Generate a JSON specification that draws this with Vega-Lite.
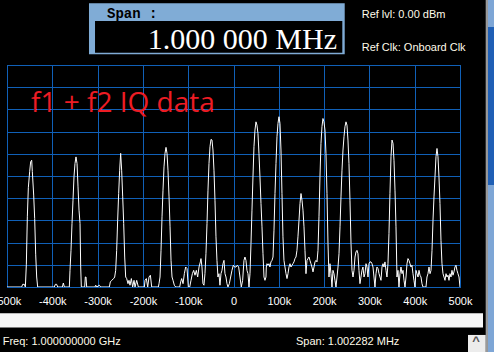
{
  "$schema": "https://vega.github.io/schema/vega-lite/v6.json",
  "width": 453,
  "height": 222,
  "autosize": {"type": "none"},
  "padding": {"left": 7, "top": 65, "right": 34, "bottom": 65},
  "background": "#000000",
  "config": {
    "view": {"stroke": "#4a88c8", "strokeWidth": 1},
    "axis": {"gridColor": "#1060b8", "gridWidth": 1, "gridOpacity": 1, "ticks": false, "domain": false, "grid": true},
    "axisX": {"tickCount": 10, "labelColor": "#ffffff", "labelFont": "Liberation Sans", "labelFontSize": 11, "labelPadding": 8,
      "labelFlush": false, "labelOverlap": false, "labelBound": false,
      "labelExpr": "datum.value == 0 ? '0' : datum.value + 'k'"},
    "axisY": {"tickCount": 10, "labels": false}
  },
  "datasets": {
    "trace": [
      {"f":-500,"p":-100},{"f":-467.6,"p":-100},{"f":-465.4,"p":-98.8},{"f":-461.7,"p":-98.8},{"f":-459.5,"p":-100},{"f":-457.3,"p":-90},{"f":-455.1,"p":-68.4},{"f":-452.9,"p":-55.3},{"f":-450,"p":-48.1},{"f":-447.8,"p":-43.6},{"f":-445.5,"p":-42.9},{"f":-444.1,"p":-48},{"f":-441.1,"p":-58.6},{"f":-438.9,"p":-69.2},{"f":-436.7,"p":-85.2},{"f":-434.5,"p":-95.5},{"f":-432.3,"p":-100},{"f":-395.5,"p":-100},{"f":-393.3,"p":-98.8},{"f":-390.4,"p":-98.8},{"f":-388.1,"p":-100},{"f":-377.8,"p":-100},{"f":-375.6,"p":-98.2},{"f":-373.4,"p":-100},{"f":-362.4,"p":-100},
      {"f":-360.9,"p":-92.5},{"f":-358.7,"p":-83.5},{"f":-356.5,"p":-71.4},{"f":-354.3,"p":-60.9},{"f":-352.1,"p":-50.4},{"f":-349.9,"p":-44.4},{"f":-347.7,"p":-41.4},{"f":-345.4,"p":-44.4},{"f":-343.2,"p":-54.9},{"f":-341.0,"p":-65.4},{"f":-338.8,"p":-71.4},{"f":-337.3,"p":-91},{"f":-335.9,"p":-100},{"f":-328.5,"p":-100},{"f":-327.1,"p":-95.5},{"f":-325.6,"p":-95.5},{"f":-324.1,"p":-100},{"f":-305.7,"p":-100},{"f":-304.2,"p":-99.2},{"f":-302.0,"p":-100},{"f":-296.1,"p":-99.2},{"f":-293.2,"p":-100},{"f":-274.1,"p":-100},{"f":-271.9,"p":-97.7},{"f":-268.9,"p":-97},{"f":-264.5,"p":-96.2},{"f":-262.3,"p":-95.5},{"f":-260.1,"p":-92.5},{"f":-257.9,"p":-83.5},{"f":-255.7,"p":-69.9},{"f":-253.5,"p":-57.9},{"f":-251.3,"p":-47.4},{"f":-249.1,"p":-39.8},{"f":-246.9,"p":-47.4},{"f":-244.6,"p":-59.4},{"f":-242.4,"p":-71.4},{"f":-240.2,"p":-86.5},{"f":-238.0,"p":-95.5},{"f":-235.8,"p":-96.2},{"f":-232.9,"p":-98.5},{"f":-230.7,"p":-97},{"f":-228.5,"p":-99.2},{"f":-225.5,"p":-96.2},{"f":-222.6,"p":-100},{"f":-219.6,"p":-97},{"f":-217.4,"p":-100},
      {"f":-213.7,"p":-97},{"f":-210.0,"p":-100},{"f":-196.8,"p":-100},{"f":-195.3,"p":-97},{"f":-192.4,"p":-96.2},{"f":-189.4,"p":-100},{"f":-186.5,"p":-95.5},{"f":-183.5,"p":-94.7},{"f":-180.6,"p":-100},{"f":-165.9,"p":-100},{"f":-164.4,"p":-98.5},{"f":-162.2,"p":-95.5},{"f":-160.0,"p":-83.5},{"f":-157.8,"p":-68.4},{"f":-155.6,"p":-56.4},{"f":-153.4,"p":-45.9},{"f":-151.2,"p":-39.8},{"f":-149.0,"p":-37.1},{"f":-146.8,"p":-39.8},{"f":-144.6,"p":-47.4},{"f":-142.3,"p":-59.4},{"f":-140.1,"p":-72.9},{"f":-137.9,"p":-88},{"f":-135.7,"p":-95.5},{"f":-133.5,"p":-97},{"f":-130.6,"p":-99.2},{"f":-127.6,"p":-100},{"f":-118.8,"p":-100},{"f":-116.6,"p":-97.7},{"f":-114.4,"p":-96.2},{"f":-111.4,"p":-98.5},{"f":-108.5,"p":-94},{"f":-105.6,"p":-91},{"f":-102.6,"p":-91.7},{"f":-99.7,"p":-100},{"f":-96.7,"p":-100},{"f":-93.8,"p":-97},{"f":-90.8,"p":-94},{"f":-87.9,"p":-92.5},{"f":-85.0,"p":-94.7},{"f":-82.0,"p":-92.5},{"f":-79.1,"p":-95.5},{"f":-76.1,"p":-91},{"f":-73.2,"p":-88.7},
      {"f":-71.8,"p":-87.2},{"f":-69.6,"p":-91},{"f":-67.4,"p":-98.5},{"f":-65.2,"p":-99.2},{"f":-63.0,"p":-94},{"f":-60.8,"p":-85},{"f":-58.5,"p":-71.4},{"f":-56.3,"p":-56.4},{"f":-54.1,"p":-44.4},{"f":-51.9,"p":-36.8},{"f":-49.7,"p":-33.5},{"f":-47.5,"p":-33.8},{"f":-45.3,"p":-38.3},{"f":-43.1,"p":-47.4},{"f":-40.9,"p":-60.9},{"f":-38.7,"p":-77.4},{"f":-36.5,"p":-88},{"f":-34.3,"p":-95.5},{"f":-32.1,"p":-94},{"f":-29.9,"p":-99.2},{"f":-27.6,"p":-94},{"f":-25.4,"p":-92.5},{"f":-23.2,"p":-89.5},{"f":-21.0,"p":-88},{"f":-18.8,"p":-94},{"f":-16.6,"p":-95.5},{"f":-14.4,"p":-98.5},{"f":-12.2,"p":-100},{"f":-9.2,"p":-98.5},{"f":-6.3,"p":-95.5},{"f":-3.4,"p":-92.5},{"f":-0.4,"p":-90.2},{"f":2.5,"p":-91},{"f":5.5,"p":-91},{"f":8.4,"p":-90.2},{"f":11.4,"p":-91},{"f":14.3,"p":-95.5},{"f":17.2,"p":-100},{"f":20.2,"p":-97},{"f":23.1,"p":-88},{"f":25.3,"p":-86.5},{"f":27.5,"p":-88},{"f":29.7,"p":-92.5},{"f":32.0,"p":-94},{"f":34.2,"p":-100},{"f":36.4,"p":-94},{"f":38.6,"p":-80.4},{"f":40.8,"p":-65.4},{"f":43.0,"p":-50.4},{"f":45.2,"p":-36.8},{"f":47.4,"p":-29.3},{"f":49.6,"p":-25.6},{"f":51.8,"p":-27.1},{"f":54.0,"p":-30.8},{"f":56.2,"p":-39.8},{"f":58.4,"p":-50.4},{"f":60.7,"p":-62.4},{"f":62.9,"p":-72.9},{"f":65.1,"p":-85},{"f":67.3,"p":-95.5},{"f":69.5,"p":-97},{"f":71.7,"p":-95.5},
      {"f":72.4,"p":-91},{"f":73.9,"p":-89.5},{"f":76.1,"p":-90.2},{"f":78.3,"p":-89.5},{"f":80.5,"p":-91},{"f":82.7,"p":-88.7},{"f":85.0,"p":-88},{"f":87.2,"p":-86.5},{"f":89.4,"p":-74.4},{"f":91.6,"p":-57.9},{"f":93.8,"p":-44.4},{"f":96.0,"p":-32.3},{"f":98.2,"p":-26.3},{"f":100.4,"p":-23.3},{"f":102.6,"p":-26.3},{"f":104.8,"p":-38.3},{"f":107.0,"p":-57.9},{"f":109.2,"p":-77.4},{"f":111.4,"p":-88},{"f":113.6,"p":-91},{"f":115.9,"p":-94},{"f":118.1,"p":-96.2},{"f":120.3,"p":-94},{"f":122.5,"p":-91},{"f":124.7,"p":-89.5},{"f":126.9,"p":-91},{"f":129.1,"p":-90.2},{"f":131.3,"p":-89.5},{"f":133.5,"p":-88.7},{"f":135.7,"p":-87.2},{"f":137.9,"p":-86.5},{"f":140.1,"p":-83.5},{"f":142.3,"p":-77.4},{"f":144.6,"p":-69.9},{"f":146.8,"p":-62.4},{"f":149.0,"p":-57.9},{"f":151.2,"p":-60.9},{"f":153.4,"p":-65.4},{"f":155.6,"p":-72.9},{"f":157.8,"p":-83.5},{"f":160.0,"p":-94},{"f":162.2,"p":-88},{"f":164.4,"p":-87.2},{"f":166.6,"p":-86.5},{"f":168.8,"p":-88},{"f":171.0,"p":-89.5},{"f":173.2,"p":-91},{"f":175.5,"p":-93.2},{"f":177.7,"p":-91},{"f":179.9,"p":-88.7},{"f":182.1,"p":-88},{"f":184.3,"p":-88.7},{"f":186.5,"p":-83.5},{"f":188.7,"p":-68.4},{"f":190.9,"p":-50.4},{"f":193.1,"p":-35.3},{"f":195.3,"p":-27.8},{"f":197.5,"p":-24.1},{"f":199.7,"p":-25.6},{"f":201.9,"p":-29.3},{"f":204.1,"p":-39.8},{"f":206.4,"p":-57.9},{"f":208.6,"p":-80.4},{"f":210.8,"p":-95.5},{"f":213.0,"p":-89.5},{"f":215.2,"p":-94},
      {"f":217.4,"p":-100},{"f":219.6,"p":-92.5},{"f":221.8,"p":-94},{"f":224.0,"p":-97},{"f":226.2,"p":-100},{"f":228.5,"p":-95.5},{"f":230.7,"p":-91},{"f":232.9,"p":-85},{"f":235.1,"p":-72.9},{"f":237.3,"p":-59.4},{"f":239.5,"p":-47.4},{"f":241.7,"p":-38.3},{"f":243.9,"p":-32.3},{"f":246.1,"p":-27.8},{"f":248.3,"p":-25.6},{"f":250.5,"p":-27.1},{"f":252.7,"p":-33.8},{"f":254.9,"p":-44.4},{"f":257.1,"p":-60.9},{"f":259.4,"p":-80.4},{"f":261.6,"p":-92.5},{"f":263.8,"p":-95.5},{"f":266.0,"p":-92.5},{"f":268.2,"p":-86.5},{"f":270.4,"p":-84.2},{"f":272.6,"p":-83.5},{"f":274.8,"p":-85},{"f":277.0,"p":-92.5},{"f":279.2,"p":-98.5},{"f":281.4,"p":-95.5},{"f":283.6,"p":-92.5},{"f":285.8,"p":-91},{"f":288.1,"p":-95.5},{"f":290.3,"p":-94},{"f":292.5,"p":-89.5},{"f":294.7,"p":-91},{"f":296.9,"p":-95.5},{"f":299.1,"p":-89.5},{"f":301.3,"p":-88.7},{"f":303.5,"p":-88.7},{"f":305.7,"p":-89.5},{"f":307.9,"p":-91},{"f":310.1,"p":-95.5},{"f":312.3,"p":-100},{"f":314.5,"p":-94},{"f":316.7,"p":-91},{"f":319.0,"p":-91.7},{"f":321.2,"p":-94},{"f":323.4,"p":-95.5},{"f":325.6,"p":-97},{"f":327.8,"p":-91},{"f":330.0,"p":-89.5},{"f":332.2,"p":-91},{"f":334.4,"p":-88.7},{"f":336.6,"p":-92.5},{"f":338.8,"p":-95.5},{"f":341.0,"p":-89.5},{"f":343.2,"p":-75.9},{"f":345.4,"p":-57.9},{"f":347.7,"p":-41.3},{"f":349.9,"p":-33.8},{"f":352.1,"p":-35.3},{"f":354.3,"p":-42.9},{"f":356.5,"p":-56.4},{"f":358.7,"p":-72.9},
      {"f":360.9,"p":-95.5},{"f":363.1,"p":-92.5},{"f":365.3,"p":-100},{"f":367.5,"p":-94},{"f":369.7,"p":-91},{"f":372.0,"p":-94},{"f":374.2,"p":-92.5},{"f":376.4,"p":-97},{"f":378.6,"p":-100},{"f":380.8,"p":-95.5},{"f":383.0,"p":-89.5},{"f":385.2,"p":-87.2},{"f":387.4,"p":-88},{"f":389.6,"p":-89.5},{"f":391.8,"p":-91},{"f":394.0,"p":-90.2},{"f":396.2,"p":-94},{"f":398.4,"p":-97},{"f":400.6,"p":-100},{"f":402.9,"p":-92.5},{"f":405.1,"p":-94},{"f":407.3,"p":-95.5},{"f":409.5,"p":-92.5},{"f":411.7,"p":-94.7},{"f":413.9,"p":-95.5},{"f":416.1,"p":-98.5},{"f":418.3,"p":-100},{"f":424.9,"p":-100},{"f":427.1,"p":-95.5},{"f":429.3,"p":-94},{"f":431.6,"p":-91},{"f":433.8,"p":-94},{"f":436.0,"p":-92.5},{"f":438.2,"p":-83.5},{"f":440.4,"p":-69.9},{"f":442.6,"p":-59.4},{"f":444.8,"p":-50.4},{"f":447.0,"p":-41.3},{"f":449.2,"p":-37.6},{"f":451.4,"p":-41.3},{"f":453.6,"p":-50.4},{"f":455.8,"p":-62.4},{"f":458.0,"p":-79},{"f":460.2,"p":-89.5},{"f":462.5,"p":-94},{"f":464.7,"p":-95.5},{"f":466.9,"p":-97},{"f":469.1,"p":-94},{"f":471.3,"p":-95.5},{"f":473.5,"p":-94.7},{"f":475.7,"p":-97},{"f":477.9,"p":-94},{"f":480.1,"p":-95.5},{"f":482.3,"p":-92.5},{"f":484.5,"p":-94.7},{"f":486.7,"p":-93.2},{"f":488.9,"p":-91},{"f":491.1,"p":-90.2},{"f":493.3,"p":-92.5},{"f":495.5,"p":-94},{"f":497.8,"p":-95.5},{"f":500,"p":-100}
    ]
  },
  "layer": [
    {
      "data": {"name": "trace"},
      "mark": {"type": "line", "color": "#ffffff", "strokeWidth": 1, "clip": true},
      "encoding": {
        "x": {"field": "f", "type": "quantitative", "scale": {"domain": [-500, 500], "nice": false, "zero": false}, "axis": {"title": null}},
        "y": {"field": "p", "type": "quantitative", "scale": {"domain": [-100, 0], "nice": false, "zero": false}, "axis": {"title": null}}
      }
    },
    {
      "data": {"values": [{}]},
      "mark": {"type": "rect", "color": "#80acd6"},
      "encoding": {
        "x": {"datum": -319, "type": "quantitative", "scale": {"domain": [-500, 500], "nice": false, "zero": false}, "axis": {"title": null}},
        "x2": {"datum": 245.5},
        "y": {"datum": 27.8, "type": "quantitative", "scale": {"domain": [-100, 0], "nice": false, "zero": false}, "axis": {"title": null}},
        "y2": {"datum": 4.8}
      }
    },
    {
      "data": {"values": [{}]},
      "mark": {"type": "rect", "color": "#000000"},
      "encoding": {
        "x": {"datum": -305.7, "type": "quantitative", "scale": {"domain": [-500, 500], "nice": false, "zero": false}, "axis": {"title": null}},
        "x2": {"datum": 240.2},
        "y": {"datum": 19.8, "type": "quantitative", "scale": {"domain": [-100, 0], "nice": false, "zero": false}, "axis": {"title": null}},
        "y2": {"datum": 5.5}
      }
    },
    {
      "data": {"values": [{}]},
      "mark": {"type": "rect", "color": "#f7f7f7"},
      "encoding": {
        "x": {"datum": -520, "type": "quantitative", "scale": {"domain": [-500, 500], "nice": false, "zero": false}, "axis": {"title": null}},
        "x2": {"datum": 550.8},
        "y": {"datum": -111.8, "type": "quantitative", "scale": {"domain": [-100, 0], "nice": false, "zero": false}, "axis": {"title": null}},
        "y2": {"datum": -118.2}
      }
    },
    {
      "data": {"values": [{}]},
      "mark": {"type": "rect", "color": "#9a9a9a"},
      "encoding": {
        "x": {"datum": 556.7, "type": "quantitative", "scale": {"domain": [-500, 500], "nice": false, "zero": false}, "axis": {"title": null}},
        "x2": {"datum": 561.8},
        "y": {"datum": 30, "type": "quantitative", "scale": {"domain": [-100, 0], "nice": false, "zero": false}, "axis": {"title": null}},
        "y2": {"datum": -130}
      }
    },
    {
      "data": {"values": [{}]},
      "mark": {"type": "rect", "color": "#7ea6d6"},
      "encoding": {
        "x": {"datum": 561.8, "type": "quantitative", "scale": {"domain": [-500, 500], "nice": false, "zero": false}, "axis": {"title": null}},
        "x2": {"datum": 580},
        "y": {"datum": 30, "type": "quantitative", "scale": {"domain": [-100, 0], "nice": false, "zero": false}, "axis": {"title": null}},
        "y2": {"datum": -130}
      }
    },
    {
      "data": {"values": [{}]},
      "mark": {"type": "rect", "color": "#1f5fb5"},
      "encoding": {
        "x": {"datum": 561.8, "type": "quantitative", "scale": {"domain": [-500, 500], "nice": false, "zero": false}, "axis": {"title": null}},
        "x2": {"datum": 580},
        "y": {"datum": 17.1, "type": "quantitative", "scale": {"domain": [-100, 0], "nice": false, "zero": false}, "axis": {"title": null}},
        "y2": {"datum": -54.1}
      }
    },
    {
      "data": {"values": [{}]},
      "mark": {"type": "rect", "color": "#ececec"},
      "encoding": {
        "x": {"datum": 517.7, "type": "quantitative", "scale": {"domain": [-500, 500], "nice": false, "zero": false}, "axis": {"title": null}},
        "x2": {"datum": 556.7},
        "y": {"datum": -121.6, "type": "quantitative", "scale": {"domain": [-100, 0], "nice": false, "zero": false}, "axis": {"title": null}},
        "y2": {"datum": -130}
      }
    },
    {
      "data": {"values": [{}]},
      "mark": {"type": "text", "text": "^", "color": "#555555", "font": "Liberation Sans", "fontSize": 13, "fontWeight": "bold", "align": "center", "baseline": "middle"},
      "encoding": {
        "x": {"datum": 535.3, "type": "quantitative", "scale": {"domain": [-500, 500], "nice": false, "zero": false}, "axis": {"title": null}},
        "y": {"datum": -124.5, "type": "quantitative", "scale": {"domain": [-100, 0], "nice": false, "zero": false}, "axis": {"title": null}}
      }
    },
    {
      "data": {"values": [{}]},
      "mark": {"type": "text", "text": "Span :", "color": "#000000", "font": "Liberation Mono", "fontSize": 14, "fontWeight": "bold", "align": "left", "baseline": "alphabetic"},
      "encoding": {
        "x": {"datum": -279.3, "type": "quantitative", "scale": {"domain": [-500, 500], "nice": false, "zero": false}, "axis": {"title": null}},
        "y": {"datum": 21.0, "type": "quantitative", "scale": {"domain": [-100, 0], "nice": false, "zero": false}, "axis": {"title": null}}
      }
    },
    {
      "data": {"values": [{}]},
      "mark": {"type": "text", "text": "1.000 000 MHz", "color": "#ffffff", "font": "Liberation Serif", "fontSize": 30, "align": "right", "baseline": "alphabetic"},
      "encoding": {
        "x": {"datum": 228.5, "type": "quantitative", "scale": {"domain": [-500, 500], "nice": false, "zero": false}, "axis": {"title": null}},
        "y": {"datum": 7.1, "type": "quantitative", "scale": {"domain": [-100, 0], "nice": false, "zero": false}, "axis": {"title": null}}
      }
    },
    {
      "data": {"values": [{}]},
      "mark": {"type": "text", "text": "Ref lvl: 0.00 dBm", "color": "#fffbea", "font": "Liberation Sans", "fontSize": 11, "align": "left", "baseline": "alphabetic"},
      "encoding": {
        "x": {"datum": 283.0, "type": "quantitative", "scale": {"domain": [-500, 500], "nice": false, "zero": false}, "axis": {"title": null}},
        "y": {"datum": 21.3, "type": "quantitative", "scale": {"domain": [-100, 0], "nice": false, "zero": false}, "axis": {"title": null}}
      }
    },
    {
      "data": {"values": [{}]},
      "mark": {"type": "text", "text": "Ref Clk: Onboard Clk", "color": "#fffbea", "font": "Liberation Sans", "fontSize": 11, "align": "left", "baseline": "alphabetic"},
      "encoding": {
        "x": {"datum": 283.0, "type": "quantitative", "scale": {"domain": [-500, 500], "nice": false, "zero": false}, "axis": {"title": null}},
        "y": {"datum": 6.4, "type": "quantitative", "scale": {"domain": [-100, 0], "nice": false, "zero": false}, "axis": {"title": null}}
      }
    },
    {
      "data": {"values": [{}]},
      "mark": {"type": "text", "text": "f1 + f2 IQ data", "color": "#ed1c24", "font": "Open Sans", "fontSize": 28, "align": "left", "baseline": "alphabetic"},
      "encoding": {
        "x": {"datum": -447, "type": "quantitative", "scale": {"domain": [-500, 500], "nice": false, "zero": false}, "axis": {"title": null}},
        "y": {"datum": -21.0, "type": "quantitative", "scale": {"domain": [-100, 0], "nice": false, "zero": false}, "axis": {"title": null}}
      }
    },
    {
      "data": {"values": [{}]},
      "mark": {"type": "text", "text": "Freq: 1.000000000 GHz", "color": "#fffbea", "font": "Liberation Sans", "fontSize": 11, "align": "left", "baseline": "alphabetic"},
      "encoding": {
        "x": {"datum": -509.5, "type": "quantitative", "scale": {"domain": [-500, 500], "nice": false, "zero": false}, "axis": {"title": null}},
        "y": {"datum": -126.1, "type": "quantitative", "scale": {"domain": [-100, 0], "nice": false, "zero": false}, "axis": {"title": null}}
      }
    },
    {
      "data": {"values": [{}]},
      "mark": {"type": "text", "text": "Span: 1.002282 MHz", "color": "#fffbea", "font": "Liberation Sans", "fontSize": 11, "align": "left", "baseline": "alphabetic"},
      "encoding": {
        "x": {"datum": 138.0, "type": "quantitative", "scale": {"domain": [-500, 500], "nice": false, "zero": false}, "axis": {"title": null}},
        "y": {"datum": -126.1, "type": "quantitative", "scale": {"domain": [-100, 0], "nice": false, "zero": false}, "axis": {"title": null}}
      }
    }
  ]
}
